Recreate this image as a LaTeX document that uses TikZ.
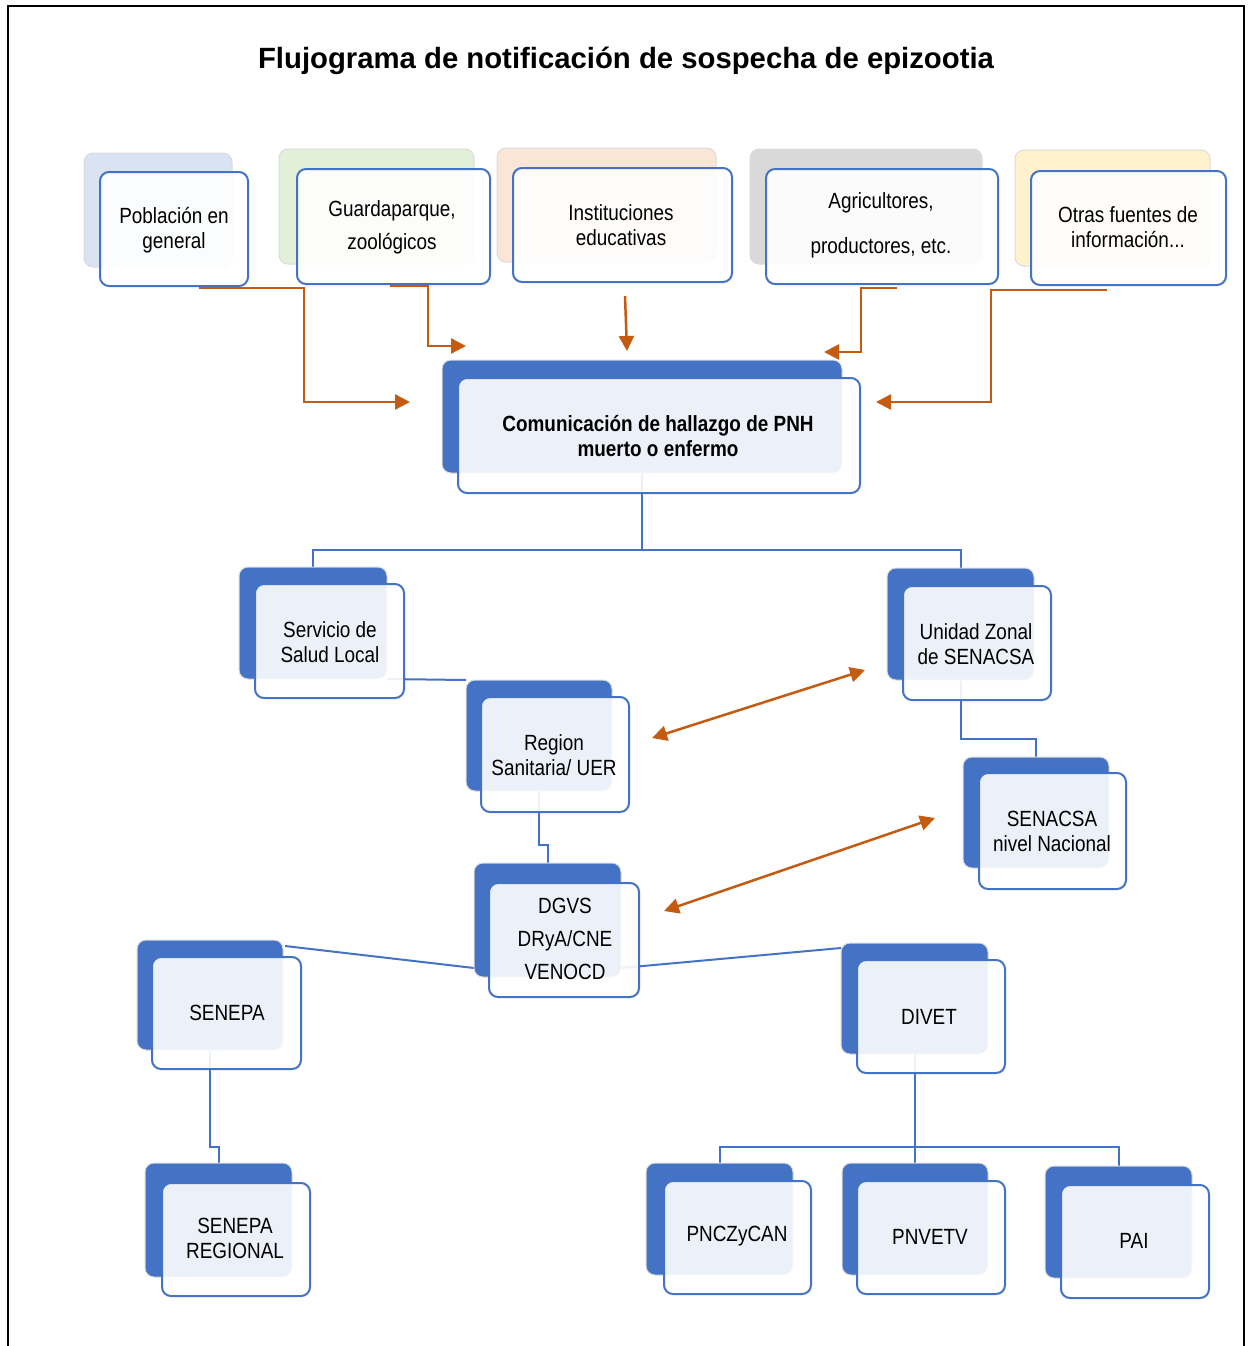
\documentclass[tikz,border=0pt]{standalone}
\usepackage{fontspec}
\setmainfont{Liberation Sans}
\newfontfamily\boxfont{Liberation Sans}[FakeStretch=0.86]
\usetikzlibrary{arrows.meta,calc}
\definecolor{accent}{HTML}{4472C4}
\definecolor{orar}{HTML}{C55A11}
\definecolor{tblue}{HTML}{DAE3F3}
\definecolor{tgreen}{HTML}{E2F0D9}
\definecolor{torange}{HTML}{FBE5D6}
\definecolor{tgray}{HTML}{D9D9D9}
\definecolor{tyellow}{HTML}{FFF2CC}
\pgfdeclarelayer{bg}
\pgfsetlayers{bg,main}
\tikzset{
  backbox/.style={rectangle, rounded corners=9pt, draw=black!14, line width=1pt, inner sep=0pt, outer sep=0pt, anchor=north west},
  frontbox/.style={rectangle, rounded corners=9pt, fill=white, fill opacity=0.9, draw=accent, line width=2pt, inner sep=0pt, outer sep=0pt, anchor=north west},
  boxtext/.style={align=center, text=black, inner sep=0pt, yshift=-1.5pt, font=\boxfont\fontsize{22}{25}\selectfont},
  link/.style={draw=accent, line width=2pt},
  orarrow/.style={draw=orar, line width=2.5pt, -{Triangle[length=15pt,width=15pt]}},
  orboth/.style={draw=orar, line width=2.5pt, {Triangle[length=15pt,width=15pt]}-{Triangle[length=15pt,width=15pt]}},
}
\begin{document}
\begin{tikzpicture}[x=1pt,y=1pt]
\useasboundingbox (0,0) rectangle (1247,-1346);
% outer frame
\draw[line width=2.5pt, line cap=rect] (8,-1346) -- (8,-6) -- (1244,-6) -- (1244,-1346);

\node[font=\fontsize{29.3}{34}\selectfont\bfseries] (title) at (626,-61) {Flujograma de notificación de sospecha de epizootia};

% ---------- back boxes ----------
\node[backbox, fill=tblue,   minimum width=148pt, minimum height=114pt] (pob-b) at (84,-153) {};
\node[backbox, fill=tgreen,  minimum width=195pt, minimum height=115pt] (gua-b) at (279,-149) {};
\node[backbox, fill=torange, minimum width=219pt, minimum height=114pt] (ins-b) at (497,-148) {};
\node[backbox, fill=tgray,   minimum width=232pt, minimum height=115pt] (agr-b) at (750,-149) {};
\node[backbox, fill=tyellow, minimum width=195pt, minimum height=116pt] (otr-b) at (1015,-150) {};

\node[backbox, fill=accent, minimum width=400pt, minimum height=113pt] (com-b) at (442,-360) {};
\node[backbox, fill=accent, minimum width=148pt, minimum height=112pt] (serv-b) at (239,-567) {};
\node[backbox, fill=accent, minimum width=146pt, minimum height=111pt] (reg-b) at (466,-680) {};
\node[backbox, fill=accent, minimum width=147pt, minimum height=112pt] (uni-b) at (887,-568) {};
\node[backbox, fill=accent, minimum width=146pt, minimum height=111pt] (sen-b) at (963,-757) {};
\node[backbox, fill=accent, minimum width=147pt, minimum height=114pt] (dgvs-b) at (474,-863) {};
\node[backbox, fill=accent, minimum width=146pt, minimum height=110pt] (senepa-b) at (137,-940) {};
\node[backbox, fill=accent, minimum width=147pt, minimum height=114pt] (senr-b) at (145,-1163) {};
\node[backbox, fill=accent, minimum width=147pt, minimum height=111pt] (divet-b) at (841,-943) {};
\node[backbox, fill=accent, minimum width=147pt, minimum height=112pt] (pnc-b) at (646,-1163) {};
\node[backbox, fill=accent, minimum width=146pt, minimum height=112pt] (pnv-b) at (842,-1163) {};
\node[backbox, fill=accent, minimum width=147pt, minimum height=112pt] (pai-b) at (1045,-1166) {};

% ---------- front boxes ----------
\node[frontbox, minimum width=148pt, minimum height=114pt] (pob) at (100,-172) {};
\node[frontbox, minimum width=193pt, minimum height=115pt] (gua) at (297,-169) {};
\node[frontbox, minimum width=219pt, minimum height=114pt] (ins) at (513,-168) {};
\node[frontbox, minimum width=232pt, minimum height=115pt] (agr) at (766,-169) {};
\node[frontbox, minimum width=195pt, minimum height=114pt] (otr) at (1031,-171) {};

\node[frontbox, minimum width=402pt, minimum height=115pt] (com) at (458,-378) {};
\node[frontbox, minimum width=149pt, minimum height=114pt] (serv) at (255,-584) {};
\node[frontbox, minimum width=148pt, minimum height=115pt] (reg) at (481,-697) {};
\node[frontbox, minimum width=148pt, minimum height=114pt] (uni) at (903,-586) {};
\node[frontbox, minimum width=147pt, minimum height=116pt] (sen) at (979,-773) {};
\node[frontbox, minimum width=150pt, minimum height=114pt] (dgvs) at (489,-883) {};
\node[frontbox, minimum width=149pt, minimum height=112pt] (senepa) at (152,-957) {};
\node[frontbox, minimum width=148pt, minimum height=113pt] (senr) at (162,-1183) {};
\node[frontbox, minimum width=148pt, minimum height=113pt] (divet) at (857,-960) {};
\node[frontbox, minimum width=147pt, minimum height=113pt] (pnc) at (664,-1181) {};
\node[frontbox, minimum width=148pt, minimum height=113pt] (pnv) at (857,-1181) {};
\node[frontbox, minimum width=148pt, minimum height=113pt] (pai) at (1061,-1185) {};

% ---------- texts ----------
\node[boxtext] (t-pob) at (174,-228.5) {Población en\\general};
\node[boxtext, font=\boxfont\fontsize{22}{33}\selectfont] (t-gua) at (392,-225.5) {Guardaparque,\\zoológicos};
\node[boxtext] (t-ins) at (621,-223.5) {Instituciones\\educativas};
\node[boxtext, font=\boxfont\fontsize{22}{45}\selectfont] (t-agr) at (881,-223.5) {Agricultores,\\productores, etc.};
\node[boxtext] (t-otr) at (1128,-225.5) {Otras fuentes de\\información...};
\node[boxtext, font=\boxfont\bfseries\fontsize{22}{25}\selectfont] (t-com) at (658,-434.5) {Comunicación de hallazgo de PNH\\muerto o enfermo};
\node[boxtext] (t-serv) at (330,-640.5) {Servicio de\\Salud Local};
\node[boxtext] (t-reg) at (554,-753.5) {Region\\Sanitaria/ UER};
\node[boxtext] (t-uni) at (976,-642.5) {Unidad Zonal\\de SENACSA};
\node[boxtext] (t-sen) at (1052,-830) {SENACSA\\nivel Nacional};
\node[boxtext, font=\boxfont\fontsize{22}{33}\selectfont] (t-dgvs) at (565,-937) {DGVS\\DRyA/CNE\\VENOCD};
\node[boxtext] (t-senepa) at (227,-1011) {SENEPA};
\node[boxtext] (t-senr) at (235,-1236.5) {SENEPA\\REGIONAL};
\node[boxtext] (t-divet) at (929,-1015) {DIVET};
\node[boxtext] (t-pnc) at (737,-1235) {PNCZyCAN};
\node[boxtext] (t-pnv) at (930,-1235) {PNVETV};
\node[boxtext] (t-pai) at (1134,-1239) {PAI};

% ---------- blue connectors (behind) ----------
\coordinate (comj) at (0,-550);
\coordinate (regj) at (0,-845);
\coordinate (unij) at (0,-739);
\coordinate (senj) at (0,-1147);
\coordinate (divj) at (0,-1147);
\begin{pgfonlayer}{bg}
\draw[link] (com-b.south) -- (com-b.south |- comj) -| (serv-b.north);
\draw[link] (com-b.south |- comj) -| (uni-b.north);
\draw[link] (serv-b.south east) -- (reg-b.north west);
\draw[link] (reg-b.south) -- (reg-b.south |- regj) -| (dgvs-b.north);
\draw[link] (uni-b.south) -- (uni-b.south |- unij) -| (sen-b.north);
\draw[link] (senepa-b.south) -- (senepa-b.south |- senj) -| (senr-b.north);
\draw[link] ($(senepa-b.north east)+(2,-6)$) -- ($(dgvs-b.south west)+(0,9)$);
\draw[link] ($(dgvs-b.south east)+(0,9)$) -- ($(divet-b.north west)+(0,-5)$);
\draw[link] (divet-b.south) -- (divet-b.south |- divj) -| (pnc-b.north);
\draw[link] (divet-b.south |- divj) -| (pnv-b.north);
\draw[link] (divet-b.south |- divj) -| (pai-b.north);
\end{pgfonlayer}

% ---------- orange arrows ----------
\coordinate (a1s) at ($(pob.south)+(25,-2)$);
\coordinate (a1e) at (410,-402);
\coordinate (a2s) at ($(gua.south)+(-3.5,-2)$);
\coordinate (a2e) at (466,-346);
\coordinate (a3s) at (625,-296);
\coordinate (a3e) at (627,-351);
\coordinate (a4s) at (897,-288);
\coordinate (a4e) at (824,-352);
\coordinate (a5s) at (1107,-290);
\coordinate (a5e) at (876,-402);
\draw[orarrow] (a1s) -- ++(105,0) |- (a1e);
\draw[orarrow] (a2s) -- ++(38,0) |- (a2e);
\draw[orarrow] (a3s) -- (a3e);
\draw[orarrow] (a4s) -- ++(-36,0) |- (a4e);
\draw[orarrow] (a5s) -- ++(-116,0) |- (a5e);

\coordinate (d1a) at (652,-738);
\coordinate (d1b) at (865,-670);
\coordinate (d2a) at (664,-911);
\coordinate (d2b) at (935,-818);
\draw[orboth] (d1a) -- (d1b);
\draw[orboth] (d2a) -- (d2b);
\end{tikzpicture}
\end{document}
